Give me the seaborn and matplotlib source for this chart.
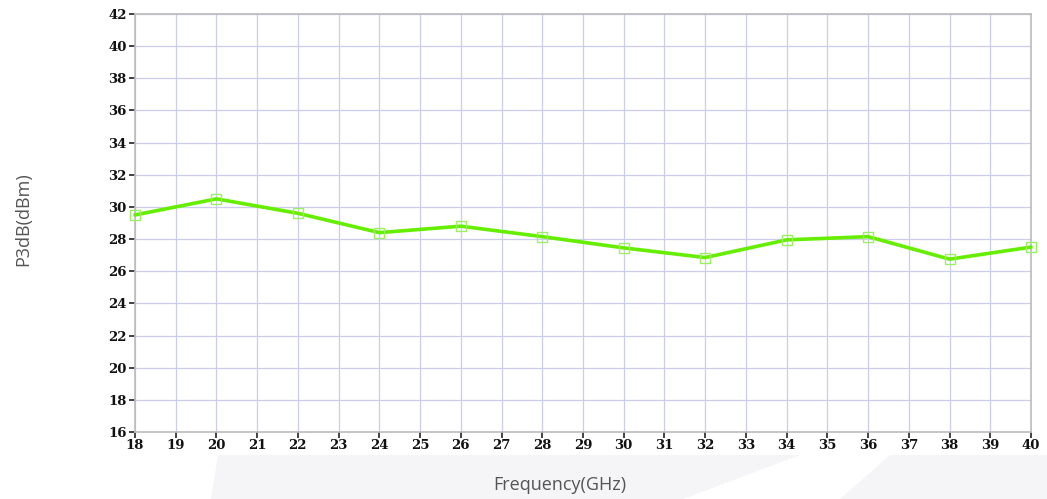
import numpy as np
import pandas as pd
import matplotlib
matplotlib.use("Agg")
import matplotlib.pyplot as plt
from matplotlib.patches import Polygon
import seaborn as sns

# values
freq_ghz = [18, 20, 22, 24, 26, 28, 30, 32, 34, 36, 38, 40]
p3db_dbm = [29.5, 30.5, 29.6, 28.4, 28.8, 28.15, 27.45, 26.85, 27.95, 28.15, 26.75, 27.5]
x_ticks = list(range(18, 41))
y_ticks = list(range(16, 43, 2))

df = pd.DataFrame({"freq": freq_ghz, "p3db": p3db_dbm})

sns.set_theme(style="white")
plt.rcParams["font.family"] = ["DejaVu Sans"]

fig = plt.figure(figsize=(10.47, 4.99), dpi=100)
fig.patch.set_facecolor("white")

# faint watermark shapes in the background (figure fraction coords)
W, H = 1047.0, 499.0
for pts in [
    [(211, 499), (683, 499), (800, 455), (218, 455)],
    [(840, 499), (1047, 499), (1047, 455), (890, 455)],
]:
    fig.add_artist(Polygon([(px / W, 1 - py / H) for px, py in pts], closed=True,
                           transform=fig.transFigure, facecolor="#f5f5f7",
                           edgecolor="none", zorder=0))

ax = fig.add_axes([0.1289, 0.1343, 0.8558, 0.8377])
ax.set_facecolor("white")

sns.lineplot(data=df, x="freq", y="p3db", ax=ax, color="#66ee00", linewidth=2.6,
             marker="s", markersize=7, markerfacecolor="none",
             markeredgecolor="#9af060", markeredgewidth=1.0, zorder=3, clip_on=False)

ax.set_xlim(18, 40)
ax.set_ylim(16, 42)
ax.set_xticks(x_ticks)
ax.set_yticks(y_ticks)
ax.grid(True, color="#ccccec", linewidth=0.9)

tick_font = {"family": "DejaVu Serif", "weight": "bold", "size": 9.5}
ax.set_xticklabels([str(t) for t in x_ticks], fontdict=tick_font)
ax.set_yticklabels([str(t) for t in y_ticks], fontdict=tick_font)
ax.tick_params(axis="both", which="major", direction="out", length=4, width=1.2,
               color="#222222", labelcolor="#111111", bottom=True, left=True)
ax.tick_params(axis="x", pad=1)
ax.tick_params(axis="y", pad=2)

for side in ["left", "right", "top", "bottom"]:
    ax.spines[side].set_color("#bbbbbb")
    ax.spines[side].set_linewidth(1.2)

ax.set_xlabel("")
ax.set_ylabel("")
fig.text(0.535, 0.028, "Frequency(GHz)", ha="center", va="center",
         fontsize=13, color="#555555", family="Open Sans")
fig.text(0.022, 0.56, "P3dB(dBm)", ha="center", va="center", rotation=90,
         fontsize=13, color="#555555", family="Open Sans")

fig.savefig("out.png", dpi=100)
